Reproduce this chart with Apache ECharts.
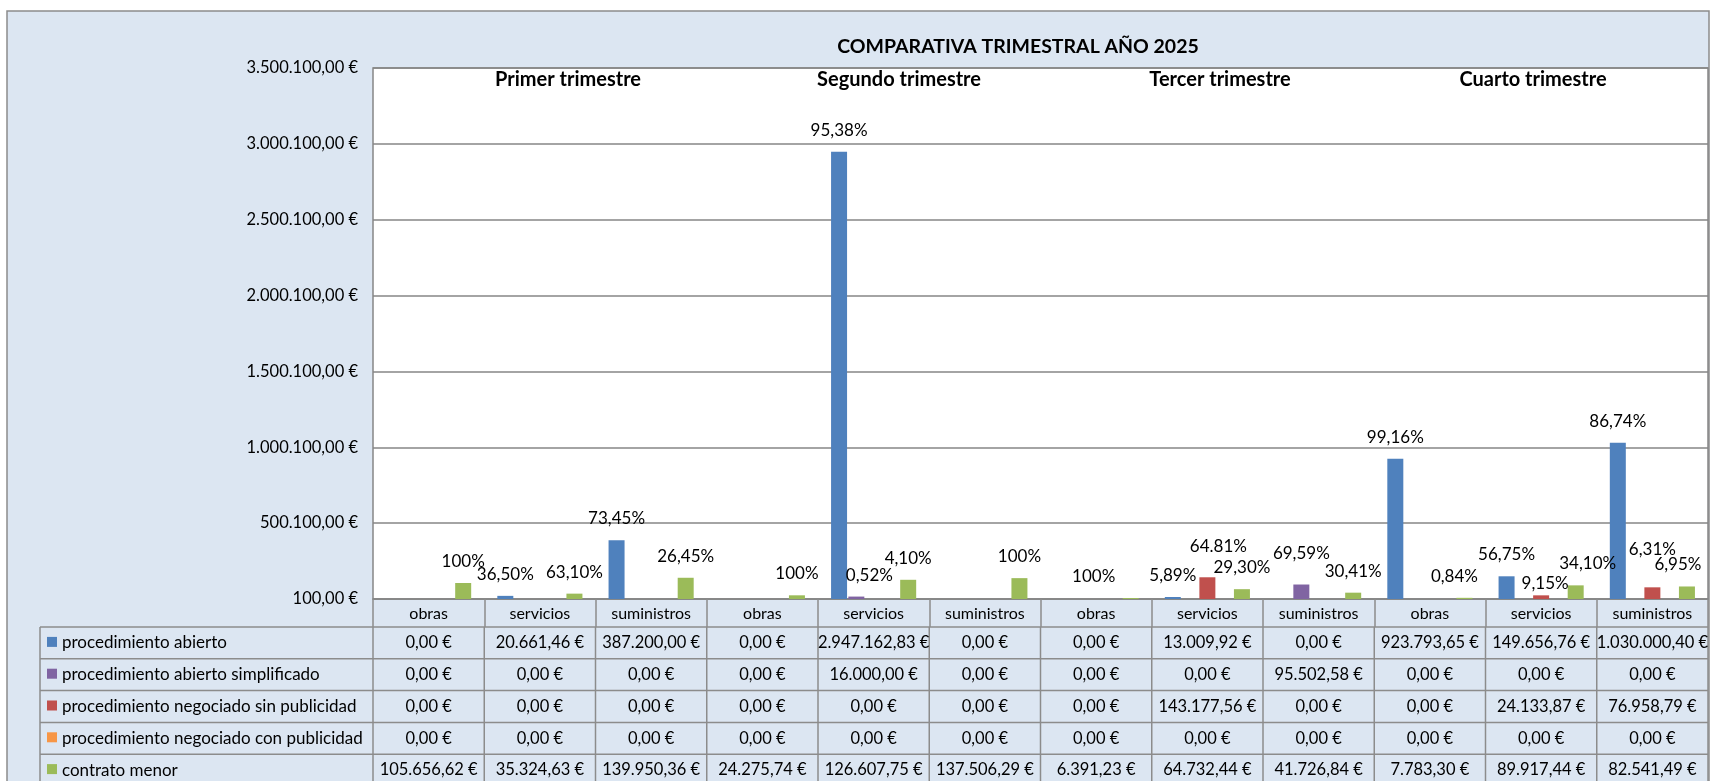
<!DOCTYPE html>
<html>
<head>
<meta charset="utf-8">
<script src="https://cdn.jsdelivr.net/npm/echarts@6/dist/echarts.min.js"></script>
<style>
  html, body { margin: 0; padding: 0; background: #fff; }
  #main { width: 1713px; height: 781px; }
</style>
</head>
<body>
<div id="main"></div>
<script>
// datos
var quarters = ['Primer trimestre', 'Segundo trimestre', 'Tercer trimestre', 'Cuarto trimestre'];
var categories = ['obras', 'servicios', 'suministros', 'obras', 'servicios', 'suministros',
                  'obras', 'servicios', 'suministros', 'obras', 'servicios', 'suministros'];
var seriesNames = ['procedimiento abierto', 'procedimiento abierto simplificado',
                   'procedimiento negociado sin publicidad', 'procedimiento negociado con publicidad',
                   'contrato menor'];

var abierto       = [0, 20661.46, 387200.00, 0, 2947162.83, 0, 0, 13009.92, 0, 923793.65, 149656.76, 1030000.40];
var simplificado  = [0, 0, 0, 0, 16000.00, 0, 0, 0, 95502.58, 0, 0, 0];
var sinPublicidad = [0, 0, 0, 0, 0, 0, 0, 143177.56, 0, 0, 24133.87, 76958.79];
var conPublicidad = [0, 0, 0, 0, 0, 0, 0, 0, 0, 0, 0, 0];
var menor         = [105656.62, 35324.63, 139950.36, 24275.74, 126607.75, 137506.29, 6391.23, 64732.44, 41726.84, 7783.30, 89917.44, 82541.49];

// porcentajes tal como aparecen en las etiquetas
var abiertoPct      = ['', '36,50%', '73,45%', '', '95,38%', '', '', '5,89%', '', '99,16%', '56,75%', '86,74%'];
var simplificadoPct = ['', '', '', '', '0,52%', '', '', '', '69,59%', '', '', ''];
var sinPubPct       = ['', '', '', '', '', '', '', '64.81%', '', '', '9,15%', '6,31%'];
var conPubPct       = ['', '', '', '', '', '', '', '', '', '', '', ''];
var menorPct        = ['100%', '63,10%', '26,45%', '100%', '4,10%', '100%', '100%', '29,30%', '30,41%', '0,84%', '34,10%', '6,95%'];

var yStep = 500000;
var yTickLabels = ['100,00 €', '500.100,00 €', '1.000.100,00 €', '1.500.100,00 €', '2.000.100,00 €',
                   '2.500.100,00 €', '3.000.100,00 €', '3.500.100,00 €'];

var colors = ['#4F81BD', '#8064A2', '#C0504D', '#F79646', '#9BBB59'];
var FONT = 'Lato, "Noto Sans", sans-serif';
var GRID = { left: 373, right: 5, top: 68, bottom: 182 };

// etiquetas movidas a mano en el original (serie-categoría: [dx, dy])
var labelShift = {
  '1-4': [13, 0], '4-6': [-37, 0], '2-7': [11, -9], '1-8': [0, -9],
  '4-9': [-10, 0], '2-10': [4, 10], '4-10': [12, 0], '2-11': [0, -16], '4-11': [-9, 0]
};

var seriesData = [abierto, simplificado, sinPublicidad, conPublicidad, menor];
var seriesPct = [abiertoPct, simplificadoPct, sinPubPct, conPubPct, menorPct];

function euro(v) {
  var s = v.toFixed(2).split('.');
  return s[0].replace(/\B(?=(\d{3})+(?!\d))/g, '.') + ',' + s[1] + ' €';
}

var chart = echarts.init(document.getElementById('main'));

var option = {
  animation: false,
  title: {
    text: 'COMPARATIVA TRIMESTRAL AÑO 2025',
    left: 1013, top: 32, textAlign: 'center',
    textStyle: { fontFamily: FONT, fontSize: 19.5, fontWeight: 'bold', color: '#000' }
  },
  grid: {
    left: GRID.left, right: GRID.right, top: GRID.top, bottom: GRID.bottom,
    show: true, backgroundColor: '#fff', borderColor: '#868686', borderWidth: 1.5
  },
  xAxis: {
    type: 'category',
    data: categories,
    axisLine: { show: true, lineStyle: { color: '#868686', width: 1.5 } },
    axisTick: { show: true, length: 28, lineStyle: { color: '#8c8c8c', width: 1.5 } },
    axisLabel: { interval: 0, margin: 7, color: '#000', fontFamily: FONT, fontSize: 16 }
  },
  yAxis: {
    type: 'value',
    min: 0, max: 3500000, interval: yStep,
    axisLine: { show: false },
    axisTick: { show: false },
    axisLabel: {
      margin: 15, color: '#000', fontFamily: FONT, fontSize: 16.5,
      formatter: function (v) { return yTickLabels[Math.round(v / yStep)]; }
    },
    splitLine: { lineStyle: { color: '#868686', width: 1.5 } }
  },
  series: seriesNames.map(function (name, k) {
    return {
      name: name,
      type: 'bar',
      data: seriesData[k].map(function (v, i) {
        var sh = labelShift[k + '-' + i];
        return sh ? { value: v, label: { offset: sh } } : v;
      }),
      barWidth: 16,
      barGap: '8%',
      itemStyle: { color: colors[k] },
      label: {
        show: true, position: 'top', distance: 13,
        color: '#000', fontFamily: FONT, fontSize: 17,
        formatter: function (p) { return seriesPct[k][p.dataIndex]; }
      }
    };
  })
};
chart.setOption(option);

// tabla de datos + fondo + rótulos de trimestre
var graphics = [];
graphics.push({
  type: 'rect', z: -1, silent: true,
  shape: { x: 7, y: 11, width: 1702, height: 800 },
  style: { fill: '#DCE6F2', stroke: '#8c8c8c', lineWidth: 1.5 }
});

var qLabelX = [568, 899, 1220, 1533];
quarters.forEach(function (q, i) {
  graphics.push({
    type: 'text', z: 5, x: qLabelX[i], y: 80,
    style: { text: q, fill: '#000', font: 'bold 20px ' + FONT, align: 'center', verticalAlign: 'middle' }
  });
});

var colLeft = GRID.left, colRight = 1713 - GRID.right;
var colW = (colRight - colLeft) / categories.length;
var headTop = 781 - GRID.bottom, headH = 28, rowH = 31.8;
var legLeft = 40;
var lineStyle = { stroke: '#8c8c8c', lineWidth: 1.5 };

for (var r = 0; r <= seriesNames.length; r++) {
  var y = headTop + headH + r * rowH;
  graphics.push({ type: 'line', z: 10, shape: { x1: legLeft, y1: y, x2: colRight, y2: y }, style: lineStyle });
}
var tableTop = headTop + headH;
[legLeft, colLeft].forEach(function (x) {
  graphics.push({ type: 'line', z: 10, shape: { x1: x, y1: tableTop, x2: x, y2: 800 }, style: lineStyle });
});
for (var c = 1; c <= categories.length; c++) {
  var x = colLeft + c * colW;
  graphics.push({ type: 'line', z: 10, shape: { x1: x, y1: tableTop, x2: x, y2: 800 }, style: lineStyle });
}

seriesNames.forEach(function (name, k) {
  var cy = tableTop + (k + 0.5) * rowH;
  graphics.push({ type: 'rect', z: 11, shape: { x: legLeft + 7, y: cy - 6, width: 10, height: 10 }, style: { fill: colors[k] } });
  graphics.push({
    type: 'text', z: 11, x: legLeft + 22, y: cy,
    style: { text: name, fill: '#000', font: '17px ' + FONT, align: 'left', verticalAlign: 'middle' }
  });
  seriesData[k].forEach(function (v, i) {
    var cx = chart.convertToPixel({ xAxisIndex: 0 }, i);
    graphics.push({
      type: 'text', z: 11, x: cx, y: cy,
      style: { text: euro(v), fill: '#000', font: '16.5px ' + FONT, align: 'center', verticalAlign: 'middle' }
    });
  });
});

chart.setOption({ graphic: graphics });
</script>
</body>
</html>
